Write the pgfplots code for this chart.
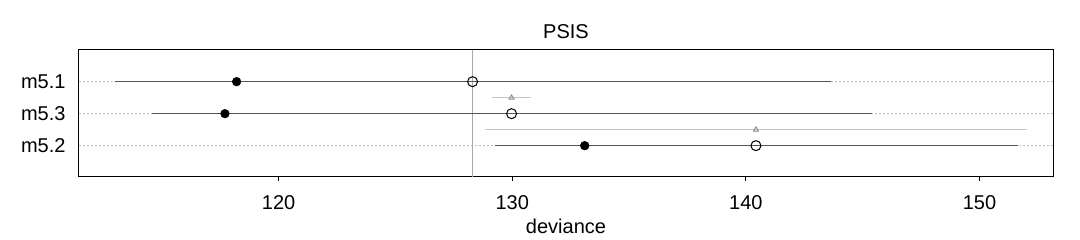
\documentclass[border=0pt]{standalone}
\usepackage{fontspec}
\setmainfont{Liberation Sans}
\usepackage{pgfplots}
\pgfplotsset{compat=1.18}
\definecolor{segc}{HTML}{555555}
\definecolor{dsec}{HTML}{C4C4C4}
\definecolor{tric}{HTML}{8C8C8C}
\definecolor{vlc}{HTML}{A8A8A8}
\definecolor{dotc}{HTML}{BEBEBE}
\begin{document}
\begin{tikzpicture}[font=\fontsize{20}{24}\selectfont]
\begin{axis}[
  scale only axis, width=974.6pt, height=126.7pt,
  xmin=111.44, xmax=153.16, ymin=0.03, ymax=3.99,
  axis line style={black, line width=1pt},
  xtick={120,130,140,150},
  ytick={1,2,3}, yticklabels={m5.2,m5.3,m5.1},
  ytick style={draw=none},
  xtick style={black, line width=0.8pt},
  tick align=outside, major tick length=4pt,
  xtick pos=bottom, ytick pos=left,
  /pgf/number format/assume math mode=true,
  xticklabel style={anchor=base, inner sep=0pt, yshift=-28.6pt},
  yticklabel style={anchor=east, inner sep=0pt, xshift=-9pt},
  title={PSIS},
  title style={at={(axis description cs:0.5,1)}, anchor=base, inner sep=0pt, yshift=5pt},
  xlabel={deviance},
  xlabel style={at={(axis description cs:0.5,0)}, anchor=base, inner sep=0pt, yshift=-57pt},
]
% dotted row guides
\addplot[dotc, line width=0.8pt, dash pattern=on 2pt off 2pt, forget plot] coordinates {(111.44,3) (153.16,3)};
\addplot[dotc, line width=0.8pt, dash pattern=on 2pt off 2pt, forget plot] coordinates {(111.44,2) (153.16,2)};
\addplot[dotc, line width=0.8pt, dash pattern=on 2pt off 2pt, forget plot] coordinates {(111.44,1) (153.16,1)};
% reference line at best PSIS
\addplot[vlc, line width=0.8pt, forget plot] coordinates {(128.30,0.03) (128.30,3.99)};
% PSIS +- SE
\addplot[segc, line width=1.3pt, forget plot] coordinates {(112.99,3) (143.63,3)};
\addplot[segc, line width=1.3pt, forget plot] coordinates {(114.59,2) (145.38,2)};
\addplot[segc, line width=1.3pt, forget plot] coordinates {(129.25,1) (151.63,1)};
% dSE
\addplot[dsec, line width=1pt, forget plot] coordinates {(129.15,2.5) (130.80,2.5)};
\addplot[dsec, line width=1pt, forget plot] coordinates {(128.85,1.5) (152.03,1.5)};
% in-sample deviance
\addplot[only marks, mark=*, mark size=4.4pt, black, forget plot] coordinates {(118.20,3) (117.70,2) (133.10,1)};
% PSIS
\addplot[only marks, mark=o, mark size=5pt, black, line width=1pt, mark options={fill=white}, forget plot] coordinates {(128.30,3) (129.97,2) (140.43,1)};
% difference triangles
\addplot[only marks, mark=triangle, mark size=2.8pt, tric, line width=0.9pt, mark options={fill=white}, forget plot] coordinates {(129.97,2.5) (140.43,1.5)};
\end{axis}
\path ([shift={(-78.7pt,-63.3pt)}]current axis.south west) rectangle ++(1080pt,240pt);
\end{tikzpicture}
\end{document}
